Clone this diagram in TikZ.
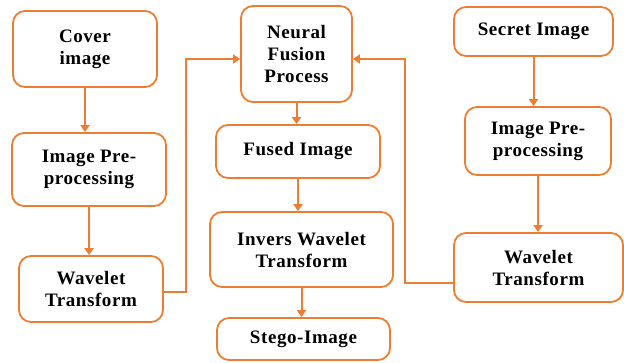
\documentclass[tikz,border=0pt]{standalone}
\usepackage{fontspec}
\setmainfont[LetterSpace=3]{Liberation Serif}
\usepackage{tikz}
\usetikzlibrary{arrows.meta}
\definecolor{boxorange}{RGB}{237,125,49}

\begin{document}
\begin{tikzpicture}[x=1pt,y=-1pt,
    blk/.style={draw=boxorange,line width=1.8pt,rounded corners=12pt,fill=white,
      align=center,inner sep=0pt,font=\fontsize{19}{22}\selectfont\bfseries},
    arr/.style={draw=boxorange,line width=2pt,-{Triangle[width=9pt,length=7pt]}}]
      % Frame
      \useasboundingbox (0,0) rectangle (624,362);

      % Left column
      \node[blk,minimum width=144pt,minimum height=76pt] (cover) at (85,49) {Cover\\image};
      \node[blk,minimum width=154pt,minimum height=73pt] (prepL) at (89,169.5) {Image Pre-\\processing};
      \node[blk,minimum width=144pt,minimum height=66pt] (waveL) at (91,289) {Wavelet\\Transform};

      % Middle column
      \node[blk,minimum width=111pt,minimum height=96pt] (fusion) at (296.5,54) {Neural\\Fusion\\Process};
      \node[blk,minimum width=164pt,minimum height=53pt] (fused) at (298,151.5) {Fused Image};
      \node[blk,minimum width=183pt,minimum height=75pt] (invers) at (301.5,249.5) {Invers Wavelet\\Transform};
      \node[blk,minimum width=173pt,minimum height=42pt] (stego) at (303.5,339) {Stego-Image};

      % Right column
      \node[blk,minimum width=159pt,minimum height=49pt] (secret) at (533.5,31.5) {Secret Image};
      \node[blk,minimum width=146pt,minimum height=68pt] (prepR) at (538,141) {Image Pre-\\processing};
      \node[blk,minimum width=169pt,minimum height=69pt] (waveR) at (538.5,267.5) {Wavelet\\Transform};

      % Vertical arrows
      \draw[arr] (cover.south) -- (cover.south |- prepL.north);
      \draw[arr] (prepL.south) -- (prepL.south |- waveL.north);
      \draw[arr] (fusion.south) -- (fusion.south |- fused.north);
      \draw[arr] (fused.south) -- (fused.south |- invers.north);
      \draw[arr] (invers.south) -- (invers.south |- stego.north);
      \draw[arr] (secret.south) -- (secret.south |- prepR.north);
      \draw[arr] (prepR.south) -- (prepR.south |- waveR.north);

      % Into the fusion
      \draw[arr] ([yshift=-3pt]waveL.east) -- ++(22,0) |- ([yshift=-5pt]fusion.west);
      \draw[arr] ([yshift=-15pt]waveR.west) -- ++(-48,0) |- ([yshift=-5pt]fusion.east);

\end{tikzpicture}
\end{document}
